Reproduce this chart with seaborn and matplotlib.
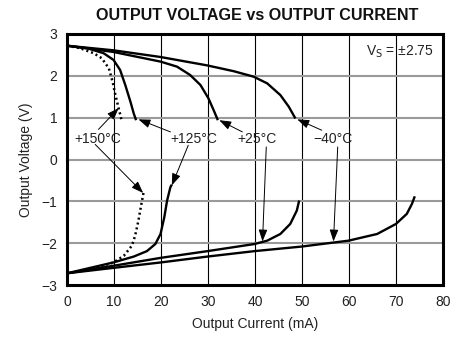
import matplotlib
matplotlib.use("Agg")
import matplotlib.pyplot as plt
import seaborn as sns
import pandas as pd

# Output voltage swing vs. load current, per temperature
# Sourcing (positive swing) branch
i_up_m40 = [0, 9.9, 19.9, 29.8, 35.5, 39.7, 42.6, 45.4, 47.2, 48.6]
v_up_m40 = [2.72, 2.61, 2.45, 2.25, 2.11, 1.98, 1.82, 1.54, 1.26, 0.98]
i_up_25 = [0, 9.9, 19.9, 23.4, 26.2, 28.4, 30.1, 31.2, 32.1]
v_up_25 = [2.72, 2.57, 2.34, 2.22, 2.02, 1.78, 1.46, 1.18, 0.94]
i_up_125 = [0, 4.3, 7.8, 9.9, 11.3, 12.4, 13.5, 14.2, 14.7]
v_up_125 = [2.72, 2.66, 2.54, 2.38, 2.14, 1.78, 1.38, 1.10, 0.94]
i_up_150 = [0, 2.8, 5.7, 7.4, 8.9, 9.7, 10.3, 11.0, 11.7]
v_up_150 = [2.72, 2.66, 2.54, 2.42, 2.18, 1.86, 1.54, 1.22, 0.90]

# Sinking (negative swing) branch
i_dn_m40 = [0, 9.9, 20, 29.9, 39.9, 50, 59.9, 66, 70, 72.3, 73.4, 74]
v_dn_m40 = [-2.72, -2.59, -2.46, -2.32, -2.19, -2.08, -1.94, -1.78, -1.54, -1.30, -1.06, -0.88]
i_dn_25 = [0, 9.9, 20, 29.9, 39.9, 42.6, 45.4, 47.5, 48.9, 49.4]
v_dn_25 = [-2.72, -2.54, -2.35, -2.19, -2.02, -1.94, -1.78, -1.54, -1.22, -0.98]
i_dn_125 = [0, 9.9, 14.2, 17.0, 18.8, 19.9, 20.7, 21.3, 22.0, 22.3]
v_dn_125 = [-2.72, -2.46, -2.32, -2.19, -2.02, -1.78, -1.38, -0.98, -0.66, -0.60]
i_dn_150 = [0, 4.3, 7.1, 9.9, 12.1, 13.8, 14.5, 15.2, 15.7, 16.3]
v_dn_150 = [-2.72, -2.64, -2.56, -2.46, -2.30, -2.06, -1.82, -1.46, -1.14, -0.78]

x_ticks = [0, 10, 20, 30, 40, 50, 60, 70, 80]
y_ticks = [-3, -2, -1, 0, 1, 2, 3]

sns.set_theme(style="white")
plt.rcParams["font.family"] = ["Liberation Sans", "DejaVu Sans"]

curves = [
    ("-40", "up", i_up_m40, v_up_m40), ("+25", "up", i_up_25, v_up_25),
    ("+125", "up", i_up_125, v_up_125), ("+150", "up", i_up_150, v_up_150),
    ("-40", "dn", i_dn_m40, v_dn_m40), ("+25", "dn", i_dn_25, v_dn_25),
    ("+125", "dn", i_dn_125, v_dn_125), ("+150", "dn", i_dn_150, v_dn_150),
]
frames = []
for t, b, xs, ys in curves:
    frames.append(pd.DataFrame({"current": xs, "voltage": ys, "temp": t, "branch": b}))
df = pd.concat(frames, ignore_index=True)

fig = plt.figure(figsize=(4.66, 3.41), dpi=100)
ax = fig.add_axes([0.1438, 0.1642, 0.8068, 0.7361])

for (t, b), g in df.groupby(["temp", "branch"], sort=False):
    if t == "+150":
        sns.lineplot(data=g, x="current", y="voltage", sort=False, ax=ax,
                     color="black", lw=1.8, linestyle=(0, (0.8, 1.2)),
                     dash_capstyle="butt", estimator=None)
    else:
        sns.lineplot(data=g, x="current", y="voltage", sort=False, ax=ax,
                     color="black", lw=1.7, estimator=None,
                     solid_joinstyle="round", solid_capstyle="butt")

ax.set_xlim(0, 80)
ax.set_ylim(-3, 3)
ax.set_xticks(x_ticks)
ax.set_yticks(y_ticks)
ax.set_xticklabels([str(v) for v in x_ticks], fontsize=10, color="#222222")
ax.set_yticklabels([str(v).replace("-", "\u2212") for v in y_ticks], fontsize=10, color="#222222")
ax.tick_params(length=0, pad=7)

for xv in x_ticks[1:-1]:
    ax.axvline(xv, color="black", lw=0.8, zorder=0)
for yv in y_ticks[1:-1]:
    ax.axhline(yv, color="#9a9a9a", lw=1.5, zorder=0)

for s in ax.spines.values():
    s.set_color("black")
    s.set_linewidth(2.2)

ax.set_xlabel("Output Current (mA)", fontsize=10, color="#222222", labelpad=6)
ax.set_ylabel("Output Voltage (V)", fontsize=10, color="#222222", labelpad=6)
fig.text(0.551, 0.956, "OUTPUT VOLTAGE vs OUTPUT CURRENT", ha="center", va="center",
         fontsize=11.6, fontweight="bold", color="#111111")

ax.text(0.975, 0.93, "V$_\\mathrm{S}$ = \u00b12.75", transform=ax.transAxes,
        ha="right", va="center", fontsize=10, color="#222222")

label_y = 0.5
labels = [
    ("+150\u00b0C", 6.6, [((6.7, 0.72), (11.0, 1.23)), ((6.0, 0.36), (16.2, -0.80))]),
    ("+125\u00b0C", 26.9, [((22.0, 0.66), (15.2, 0.96)), ((25.8, 0.34), (22.3, -0.62))]),
    ("+25\u00b0C", 40.4, [((37.3, 0.66), (32.4, 0.94)), ((42.4, 0.30), (41.6, -1.96))]),
    ("\u221240\u00b0C", 56.5, [((54.2, 0.70), (49.0, 0.96)), ((57.6, 0.30), (56.7, -1.96))]),
]
for txt, tx, arrows in labels:
    ax.text(tx, label_y, txt, ha="center", va="center", fontsize=10, color="#222222")
    for (x0, y0), (x1, y1) in arrows:
        ax.annotate("", xy=(x1, y1), xytext=(x0, y0),
                    arrowprops=dict(arrowstyle="-|>,head_length=0.6,head_width=0.22",
                                    color="black", lw=0.7, shrinkA=0, shrinkB=0))

fig.savefig("out.png", dpi=100)
